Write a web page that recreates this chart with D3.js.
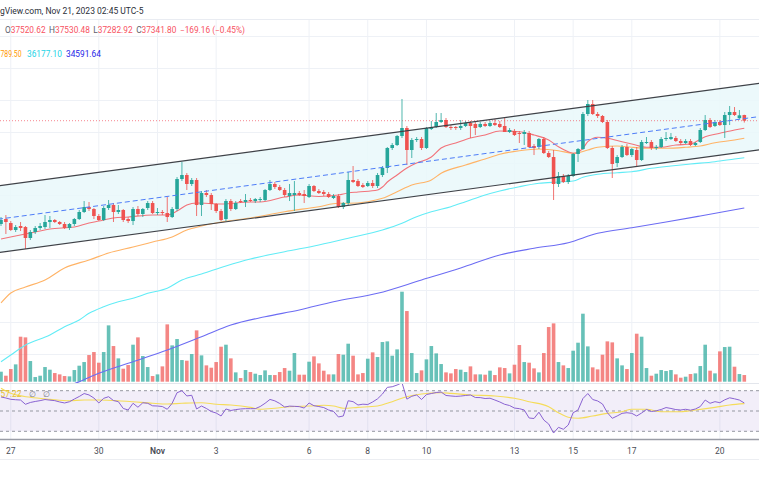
<!DOCTYPE html>
<html><head><meta charset="utf-8">
<script src="https://cdn.jsdelivr.net/npm/d3@7"></script>
<style>
html,body{margin:0;padding:0;background:#fff;}
svg{display:block;font-family:Roboto,"Noto Sans",sans-serif;}
</style></head><body>
<svg id="c" width="759" height="485"></svg>
<script>
// ---------- DATA (4h candles, BTC/USD) ----------
const opens=[34088,34245,34119,33899,34025,33993,33647,33836,33962,33993,
34151,34214,34151,34088,33962,34088,34245,34466,34623,34560,
34340,34214,34592,34686,34466,34529,34245,34182,34560,34403,
34592,34749,34434,34466,34434,34308,34560,35505,35631,35348,
35474,34686,35064,35001,34718,34497,34245,34812,34560,34812,
34781,34844,34812,34844,34844,35159,35348,35253,35159,34970,
35001,35064,35033,34938,35285,35127,35096,35033,34907,34970,
34623,34749,35474,35442,35316,35285,35379,35285,35631,35852,
36482,36576,36860,37112,36419,36734,36765,36482,37080,37143,
37301,37364,37143,37143,37112,37175,37269,37238,37143,37238,
37175,37269,37238,37175,36986,37017,36954,36923,36954,36545,
36513,36765,36324,36198,35348,35600,35411,35600,36293,36450,
37553,37868,37553,37490,37301,36482,36009,36198,36513,36261,
36419,36104,36639,36671,36482,36513,36765,36765,36797,36702,
36639,36702,36576,36671,37049,37364,37175,37301,37206,37521,
37616,37421,37520.62];
const highs=[34308,34371,34182,34056,34151,34025,33899,34025,34119,34371,
34340,34245,34182,34151,34119,34277,34529,34812,34781,34592,
34403,34655,34844,34749,34686,34560,34308,34623,34655,34592,
34812,34812,34592,34529,34938,34623,35568,36041,35694,35537,
35537,35127,35159,35064,34749,34560,34875,34875,34812,34875,
35033,34907,34907,34938,35190,35474,35411,35316,35222,35348,
35442,35127,35159,35348,35316,35190,35159,35096,35033,35033,
34781,35726,35915,35505,35379,35442,35474,35694,35915,36513,
36639,36891,38026,37175,36797,36828,36828,37143,37332,37584,
37584,37427,37206,37175,37364,37332,37332,37301,37301,37301,
37332,37395,37332,37427,37112,37080,37017,37049,37017,36608,
36797,36828,36387,36419,35726,35663,35663,36324,36482,37616,
37994,37994,37616,37521,37364,36545,36261,36576,36608,36482,
36513,36734,36828,36734,36576,36828,36986,36954,36860,36765,
36765,36765,36671,37112,37521,37427,37364,37364,37616,37805,
37773,37679,37530.48];
const lows=[34025,33773,33867,33836,33867,33300,33584,33773,33899,33930,
33962,34119,34056,33930,33899,34025,34214,34434,34497,34245,
34182,34182,34529,34151,34403,34151,34119,34056,34340,34308,
34529,34403,34371,34371,34151,34277,34497,35442,35159,35285,
34340,34340,34938,34529,34434,34182,34182,34497,34529,34749,
34623,34781,34749,34781,34812,35127,35190,35127,34938,34812,
34497,34970,34749,34907,35096,35033,34970,34907,34875,34592,
34560,34686,35379,35253,35222,35253,35222,35222,35568,35694,
36419,36545,36797,35946,36167,36671,36419,36450,37049,37112,
37269,37112,37049,37049,37049,37143,36797,36891,37112,37143,
37143,37175,37112,36986,36954,36860,36639,36576,36482,36261,
36450,36293,36167,34844,35253,35379,35348,35568,36041,36419,
37490,37521,37427,37269,36450,35537,35883,36167,36230,36198,
35915,36072,36608,36419,36419,36482,36702,36734,36671,36576,
36608,36545,36545,36639,37017,37112,37143,37175,36797,37206,
37490,37400,37282.92];
const closes=[34214,34151,33899,33993,33962,33647,33836,33962,34025,34151,
34214,34151,34088,33962,34088,34245,34466,34623,34560,34340,
34214,34592,34686,34466,34529,34214,34182,34560,34403,34560,
34749,34434,34466,34434,34308,34560,35505,35631,35348,35474,
34686,35064,35001,34718,34497,34214,34812,34560,34749,34781,
34844,34812,34875,34875,35159,35348,35253,35159,35001,35064,
35064,35001,34970,35285,35127,35064,35033,34938,34970,34623,
34749,35474,35411,35285,35253,35379,35285,35631,35852,36482,
36576,36860,37112,36419,36734,36765,36482,37112,37143,37301,
37364,37143,37112,37112,37175,37269,37175,37112,37238,37175,
37269,37206,37143,36986,37049,36891,36923,36986,36513,36482,
36765,36324,36198,35348,35600,35411,35600,36293,36450,37553,
37868,37553,37490,37301,36482,35978,36198,36513,36261,36450,
36104,36671,36671,36482,36513,36765,36797,36828,36702,36639,
36702,36576,36639,37049,37364,37143,37301,37206,37521,37616,
37521,37510.96,37341.80];
const volumes=[30,18,38,52,135,133,62,14,18,44,
36,26,22,17,16,35,48,59,80,89,
57,89,169,107,70,39,50,111,133,77,
44,17,22,46,172,109,128,65,63,83,
154,79,49,42,59,105,111,70,28,11,
35,29,24,20,34,20,20,29,41,33,
86,21,21,60,76,55,33,22,22,83,
81,114,78,22,26,69,88,74,
119,121,78,97,270,212,86,26,34,67,
107,85,53,28,25,38,36,29,46,22,
22,21,33,20,43,41,25,51,110,59,
57,40,28,86,164,175,59,49,41,93,
117,204,106,43,37,81,121,118,70,49,
38,86,144,135,41,18,24,35,32,35,
22,12,15,23,25,47,111,33,25,91,
104,105,45,23,20];
const rsi=[63.8,62.8,61.5,61.1,60.8,56.6,58.4,59.4,60.2,61.3,
60.7,60.2,58.9,57.9,59.1,61.8,64.3,67.2,65.8,62.8,
57.9,62.5,64.1,60.3,59.2,52.5,51,57.6,53.7,58.1,
57.6,55.1,54.9,54.4,51.7,57.6,68,70,64.8,65.5,
52,54.9,52.5,49.5,48,45.1,52,50.5,51.4,52,
52.3,52.3,52.3,54.4,57.6,61.4,60,57.4,53.9,54.8,
54.6,54.3,52.9,57.9,55.2,54.4,53.4,51,49.6,44.1,
45.1,60.1,59.2,55.9,56.7,56.4,58.9,62,66.7,73.3,
73.9,75.6,77.9,61.7,64.5,65.8,61.3,66.2,67.2,68.2,
68.7,65.3,64.8,64.4,64.7,65.3,65.8,63.3,63.2,62.3,
62.6,60.8,58.9,56.6,55.4,52.9,52.3,51,43.1,42.6,
48.8,41.1,37.2,28.3,33.9,32,36.2,48.3,51,62.3,
67.2,61.3,59.9,56.9,48.3,42.8,45.1,47.7,48.3,47.7,
45.1,48,51.5,49.5,50.2,51.5,53.4,52.5,51.4,51,
51.7,50.8,52,54.4,60.8,57.6,59.2,58.2,61,63,
62,60.8,57.9];
// RSI-based moving average, read at candle indices
const rsiMaIdx=[0,2,6,10,14,17,20,24,27,31,34,37,41,44,47,51,53,56,59,63,66,68,70,73,77,80,83,86,90,92,96,101,105,108,112,114,116,118,121,124,127,129,132,135,139,142,146,149,152];
const rsiMaVal=[72.4,67.4,63.5,61.5,60.1,60.8,60.8,60.1,59.1,57.6,56.9,57.6,58.2,56.6,55.9,53.6,51.7,52.7,54.2,54.9,55.6,54.9,52.7,53.6,54.9,59.2,64.1,66.7,68,67.4,65.8,64.8,62.5,59.2,54.2,48.3,43.8,42.8,45.1,47.7,49.3,51.7,51.7,49.3,49.3,51,53.6,55.9,57.22];
// moving averages, read at candle indices
const maRedIdx=[0,7,10,15,18,20,23,26,31,34,36,38,40,45,51,53,58,61,65,69,71,73,77,78,79,81,83,85,88,90,93,96,99,102,106,109,112,114,116,117,119,120,122,124,127,129,132,135,138,141,144,147,150,152];
const maRedVal=[33616,33836,33930,33993,34119,34182,34277,34308,34371,34371,34497,34686,34749,34718,34781,34781,34938,35001,34954,35001,35064,35096,35159,35253,35411,35631,35852,36009,36198,36482,36639,36797,36891,37017,36996,36891,36734,36523,36365,36315,36473,36680,36819,36788,36680,36608,36504,36504,36576,36608,36838,36945,37049,37102];
const maOrangeIdx=[0,2,5,9,13,18,22,27,31,35,38,41,45,51,58,65,69,71,75,78,81,84,88,90,95,99,102,106,110,114,117,120,122,126,129,133,136,140,143,146,150,152];
const maOrangeVal=[31600,31914,32104,32324,32702,32954,33174,33364,33521,33679,33899,34025,34151,34277,34476,34633,34740,34740,34790,34898,35105,35316,35474,35685,35946,36136,36284,36397,36450,36397,36315,36419,36504,36545,36504,36473,36473,36504,36545,36649,36734,36789.50];
const maCyanIdx=[0,2,5,10,13,16,18,21,24,27,30,34,37,41,46,51,58,65,71,78,82,85,88,92,95,99,102,106,110,114,117,119,122,126,129,133,137,141,146,150,152];
const maCyanVal=[29750,29962,30276,30592,30853,31064,31275,31483,31641,31748,31905,32063,32324,32513,32765,32986,33215,33427,33638,33899,34110,34318,34475,34633,34790,35002,35128,35263,35370,35411,35442,35559,35654,35704,35735,35843,35915,35978,36050,36136,36177.10];
const maBlueIdx=[10,16,20,27,34,41,47,54,61,68,77,86,94,102,109,116,122,129,136,143,150,152];
const maBlueVal=[28796,29120,29385,29751,30119,30538,30906,31168,31379,31641,31905,32324,32702,33112,33323,33499,33795,33970,34150,34340,34535,34591.64];
// parallel channel anchors
const channelIdx=[0,152];
const channelUpper=[35299,38457];
const channelLower=[33201,36359];
const priceTicks=[29000,30000,31000,32000,33000,34000,35000,36000,37000,38000,39000,40000];
const tickIdx=[2,20,32,44,63,75,87,105,117,129,147];
const tickLabels=["27","30","Nov","3","6","8","10","13","15","17","20"];
const rsiLevels=[70,50,30];
const headerText="gView.com, Nov 21, 2023 02:45 UTC-5";

// ---------- SCALES ----------
const svg=d3.select("#c");
const W=759;
const paneTop=19.5, paneBot=383;
const N=closes.length, last=N-1;
const x=d3.scaleLinear().domain([0,152]).range([1,744.3]);
const y=d3.scaleLinear().domain([33000,38000]).range([258.54,99.81]);
const yVol=d3.scaleLinear().domain([0,300]).range([381.7,281.7]);
const yRsi=d3.scaleLinear().domain([30,70]).range([431.3,390.7]);
const UP="#26a69a", DN="#ef5350";
const idx=d3.range(N);

svg.append("defs").append("clipPath").attr("id","main")
  .append("rect").attr("x",0).attr("y",paneTop).attr("width",W).attr("height",paneBot-paneTop);
svg.select("defs").append("clipPath").attr("id","rsiclip")
  .append("rect").attr("x",0).attr("y",384).attr("width",W).attr("height",55);

// grid
const grid=svg.append("g");
grid.selectAll("line.v").data(tickIdx).join("line")
  .attr("x1",d=>x(d)).attr("x2",d=>x(d)).attr("y1",paneTop).attr("y2",439)
  .attr("stroke","#eef1f6").attr("stroke-width",1);
grid.append("g").attr("clip-path","url(#main)").selectAll("line").data(priceTicks).join("line")
  .attr("x1",0).attr("x2",W).attr("y1",d=>Math.round(y(d))+0.5).attr("y2",d=>Math.round(y(d))+0.5)
  .attr("stroke","#eef1f6");
svg.append("line").attr("x1",0).attr("x2",W).attr("y1",paneTop).attr("y2",paneTop).attr("stroke","#e9ecf2");

const main=svg.append("g").attr("clip-path","url(#main)");

// channel
const up=d3.scaleLinear().domain(channelIdx).range(channelUpper);
const lo=d3.scaleLinear().domain(channelIdx).range(channelLower);
const i0=x.invert(-10), i1=x.invert(W+10);
const fillPts=[[i0,up(i0)],[i1,up(i1)],[i1,lo(i1)],[i0,lo(i0)]];
main.append("path").attr("d","M"+fillPts.map(p=>[x(p[0]),y(p[1])].join(",")).join("L")+"Z")
  .attr("fill","#e9f8fa").attr("opacity",0.85);

// volume
main.selectAll("rect.vol").data(idx).join("rect")
  .attr("x",i=>x(i)-1.8).attr("width",3.6)
  .attr("y",i=>yVol(volumes[i])).attr("height",i=>yVol(0)-yVol(volumes[i]))
  .attr("fill",i=>closes[i]>=opens[i]?UP:DN).attr("opacity",0.7);

// last price line
main.append("line").attr("x1",0).attr("x2",W).attr("y1",y(closes[last])).attr("y2",y(closes[last]))
  .attr("stroke","#f23645").attr("stroke-dasharray","1,2").attr("opacity",0.6);

// MAs
function ma(ix,vals,color,w){
  const pts=ix.map((d,k)=>[x(d),y(vals[k])]);
  main.append("path").attr("d",d3.line().curve(d3.curveMonotoneX)(pts))
    .attr("fill","none").attr("stroke",color).attr("stroke-width",w);
}
ma(maBlueIdx,maBlueVal,"#6c6cf3",1.1);
ma(maCyanIdx,maCyanVal,"#62ecf6",1.1);
ma(maOrangeIdx,maOrangeVal,"#ffb366",1.1);
ma(maRedIdx,maRedVal,"#f2737a",1.1);

// candles
const cg=main.append("g");
cg.selectAll("line").data(idx).join("line")
  .attr("x1",i=>x(i)).attr("x2",i=>x(i)).attr("y1",i=>y(highs[i])).attr("y2",i=>y(lows[i]))
  .attr("stroke",i=>closes[i]>=opens[i]?UP:DN).attr("stroke-width",1).attr("opacity",0.8);
cg.selectAll("rect").data(idx).join("rect")
  .attr("x",i=>x(i)-1.8).attr("width",3.6)
  .attr("y",i=>y(Math.max(opens[i],closes[i])))
  .attr("height",i=>Math.max(1,Math.abs(y(opens[i])-y(closes[i]))))
  .attr("fill",i=>closes[i]>=opens[i]?UP:DN);

// channel lines
function chLine(f,attrs){
  const l=main.append("line").attr("x1",x(i0)).attr("x2",x(i1)).attr("y1",y(f(i0))).attr("y2",y(f(i1)));
  Object.entries(attrs).forEach(([k,v])=>l.attr(k,v));
}
chLine(up,{stroke:"#3f4248","stroke-width":1.2});
chLine(lo,{stroke:"#3f4248","stroke-width":1.2});
chLine(i=>(up(i)+lo(i))/2,{stroke:"#4d7cf7","stroke-width":1,"stroke-dasharray":"5,3"});

// pane separator
svg.append("line").attr("x1",0).attr("x2",W).attr("y1",383.5).attr("y2",383.5).attr("stroke","#e3e6ec");

// RSI pane
svg.append("rect").attr("x",0).attr("width",W).attr("y",yRsi(70)).attr("height",yRsi(30)-yRsi(70))
  .attr("fill","#7e57c2").attr("opacity",0.1);
svg.selectAll("line.rl").data(rsiLevels).join("line")
  .attr("x1",0).attr("x2",W).attr("y1",d=>yRsi(d)).attr("y2",d=>yRsi(d))
  .attr("stroke","#9598a1").attr("stroke-dasharray","3,3").attr("stroke-width",1);
const rg=svg.append("g").attr("clip-path","url(#rsiclip)");
rg.append("path").attr("d",d3.line().curve(d3.curveMonotoneX)(rsiMaIdx.map((d,k)=>[x(d),yRsi(rsiMaVal[k])])))
  .attr("fill","none").attr("stroke","#f5dc5a").attr("stroke-width",1.1);
rg.append("path").attr("d",d3.line()(idx.map(i=>[x(i),yRsi(rsi[i])])))
  .attr("fill","none").attr("stroke","#8a63d2").attr("stroke-width",1);

// time axis
svg.append("line").attr("x1",0).attr("x2",W).attr("y1",439.5).attr("y2",439.5).attr("stroke","#9a9da6").attr("stroke-width",1.4);
svg.append("line").attr("x1",0).attr("x2",W).attr("y1",459.5).attr("y2",459.5).attr("stroke","#eceef2");
svg.selectAll("text.tk").data(tickIdx).join("text")
  .attr("x",d=>x(d)).attr("y",453.5).attr("text-anchor","middle")
  .attr("font-size","8.5px").attr("fill","#4a4d55")
  .attr("font-weight",(d,k)=>tickLabels[k]==="Nov"?"600":"400")
  .text((d,k)=>tickLabels[k]);

// header and legends
svg.append("text").attr("x",0).attr("y",14)
  .attr("font-size","8.5px").attr("fill","#2a2e39").text(headerText);
const fmt=d3.format(".2f");
const chg=closes[last]-closes[last-1];
const leg=svg.append("text").attr("x",5).attr("y",33).attr("font-size","8.3px");
const RED="#f7525f", LBL="#5d606b";
[["O",fmt(opens[last])],["H",fmt(highs[last])],["L",fmt(lows[last])],["C",fmt(closes[last])]].forEach((p,k)=>{
  leg.append("tspan").attr("fill",LBL).attr("dx",k?3.5:0).text(p[0]);
  leg.append("tspan").attr("fill",RED).text(p[1]);
});
leg.append("tspan").attr("fill",RED).attr("dx",3.5).text("\u2212"+fmt(-chg)+" (\u2212"+fmt(-chg/closes[last-1]*100)+"%)");
const leg2=svg.append("g").attr("font-size","8.3px");
leg2.append("text").attr("x",0.5).attr("y",57).attr("fill","#ff9800")
  .attr("textLength",21).attr("lengthAdjust","spacingAndGlyphs")
  .text(fmt(maOrangeVal[maOrangeVal.length-1]).slice(2));
leg2.append("text").attr("x",27).attr("y",57).attr("fill","#22d3e6").text(fmt(maCyanVal[maCyanVal.length-1]));
leg2.append("text").attr("x",66).attr("y",57).attr("fill","#2424e8").text(fmt(maBlueVal[maBlueVal.length-1]));
const leg3=svg.append("g").attr("font-size","8.3px");
leg3.append("text").attr("x",0.5).attr("y",397).attr("fill","#e9c233")
  .attr("textLength",21).attr("lengthAdjust","spacingAndGlyphs")
  .text(fmt(rsiMaVal[rsiMaVal.length-1]));
leg3.append("text").attr("x",32).attr("y",397).attr("text-anchor","middle").attr("fill","#787b86").text("\u2205");
leg3.append("text").attr("x",46).attr("y",397).attr("text-anchor","middle").attr("fill","#787b86").text("\u2205");
</script>
</body></html>
